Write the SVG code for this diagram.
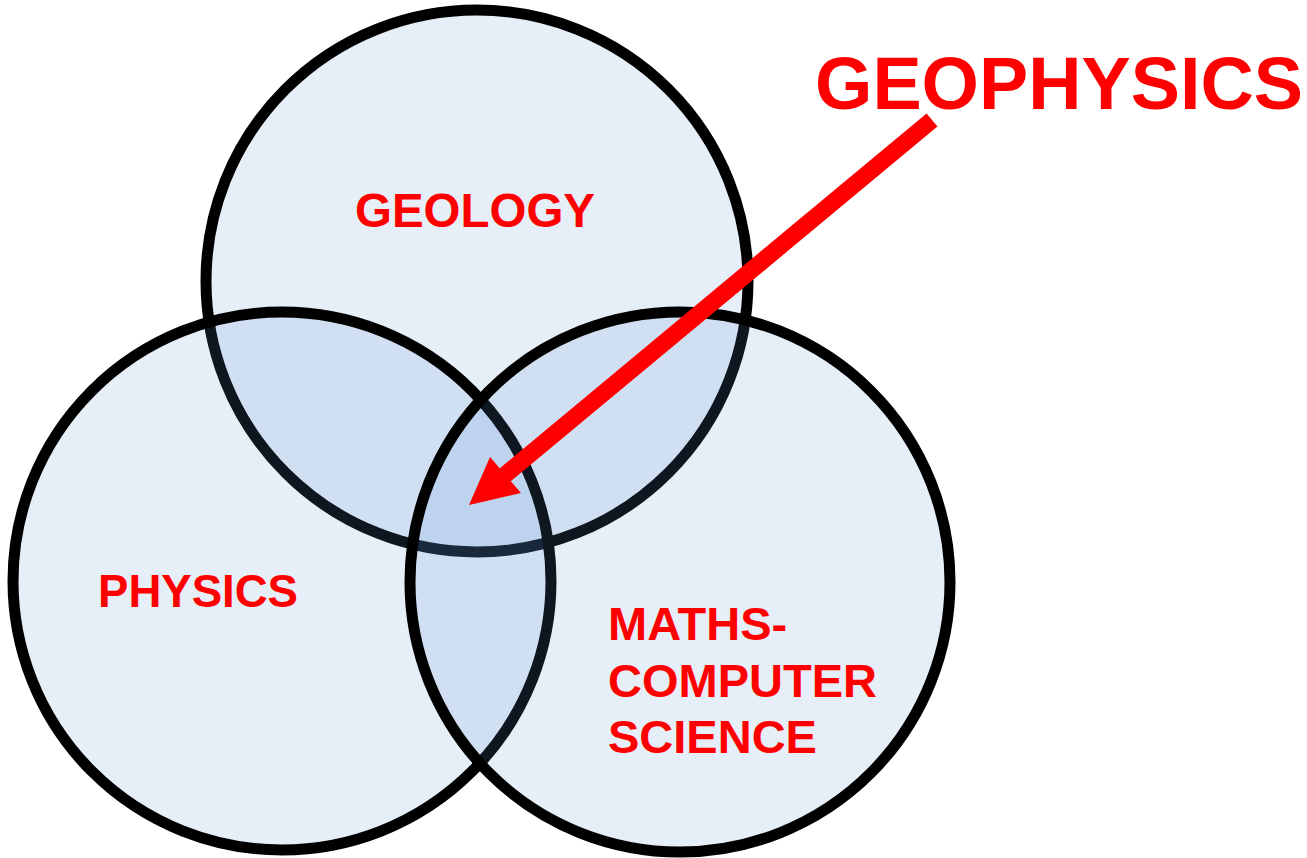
<svg xmlns="http://www.w3.org/2000/svg" width="1307" height="858" viewBox="0 0 1307 858">
<style>
.c{fill:rgb(92,144,209);fill-opacity:0.153;stroke:#000;stroke-width:11}
.t{font-family:"Liberation Sans",Arial,sans-serif;font-weight:bold;fill:#ff0000}
</style>
<rect width="1307" height="858" fill="#fff"/>
<g id="geology">
<circle class="c" cx="477" cy="281" r="271"/>
<text class="t" x="355" y="227" font-size="48" textLength="240" lengthAdjust="spacingAndGlyphs">GEOLOGY</text>
</g>
<g id="physics">
<circle class="c" cx="282" cy="581" r="269"/>
<text class="t" x="98" y="607" font-size="47" textLength="200" lengthAdjust="spacingAndGlyphs">PHYSICS</text>
</g>
<g id="maths">
<circle class="c" cx="680" cy="582" r="270"/>
<text class="t" font-size="47"><tspan x="608" y="640">MATHS-</tspan><tspan x="608" y="697">COMPUTER</tspan><tspan x="608" y="753">SCIENCE</tspan></text>
</g>
<g id="geophysics">
<text class="t" x="815" y="109" font-size="74" textLength="488" lengthAdjust="spacingAndGlyphs">GEOPHYSICS</text>
</g>
<g id="connectors">
<line x1="932" y1="120" x2="505" y2="475" stroke="#ff0000" stroke-width="17"/>
<polygon points="469,505 490,457 521,493" fill="#ff0000"/>
</g>
</svg>
